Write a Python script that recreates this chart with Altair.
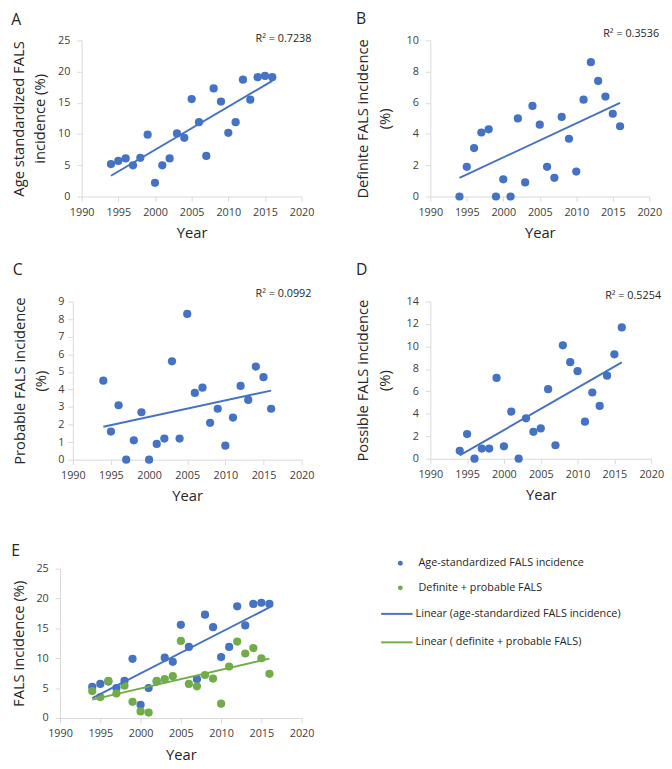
import altair as alt
import pandas as pd

BLUE = "#4472C4"
GREEN = "#70AD47"
FONT = "Open Sans"

years = list(range(1994, 2017))
age_std = [5.2, 5.7, 6.1, 5.0, 6.2, 9.9, 2.2, 5.0, 6.1, 10.1, 9.4, 15.6, 11.9, 6.5,
           17.3, 15.2, 10.2, 11.9, 18.7, 15.5, 19.1, 19.3, 19.1]
definite = [0.0, 1.9, 3.1, 4.1, 4.3, 0.0, 1.1, 0.0, 5.0, 0.9, 5.8, 4.6, 1.9, 1.2,
            5.1, 3.7, 1.6, 6.2, 8.6, 7.4, 6.4, 5.3, 4.5]
probable = [4.5, 1.6, 3.1, 0.0, 1.1, 2.7, 0.0, 0.9, 1.2, 5.6, 1.2, 8.3, 3.8, 4.1,
            2.1, 2.9, 0.8, 2.4, 4.2, 3.4, 5.3, 4.7, 2.9]
possible = [0.7, 2.2, 0.0, 0.9, 0.9, 7.2, 1.1, 4.2, 0.0, 3.6, 2.4, 2.7, 6.2, 1.2,
            10.1, 8.6, 7.8, 3.3, 5.9, 4.7, 7.4, 9.3, 11.7]
def_plus_prob = [4.5, 3.5, 6.2, 4.1, 5.4, 2.7, 1.1, 0.9, 6.2, 6.5, 7.0, 12.9, 5.7, 5.3,
                 7.2, 6.6, 2.4, 8.6, 12.8, 10.8, 11.7, 10.0, 7.4]

x_ticks = [1990, 1995, 2000, 2005, 2010, 2015, 2020]
r2_labels = ["R² = 0.7238", "R² = 0.3536", "R² = 0.0992", "R² = 0.5254"]
series_names = ["Age-standardized FALS incidence", "Definite + probable FALS"]
trend_names = ["Linear (age-standardized FALS incidence)", "Linear ( definite + probable FALS)"]


def x_enc(w, x_off):
    return alt.X("Year:Q", scale=alt.Scale(domain=[1990, 2020], nice=False, zero=False,
                                           range=[x_off, w]),
                 axis=alt.Axis(values=x_ticks, format="d", title="Year",
                               labelFlush=False, labelOverlap=False))


def y_enc(ymax, step, title, x_off, tpad, lpad):
    vals = list(range(0, ymax + 1, step))
    return alt.Y("Value:Q", scale=alt.Scale(domain=[0, ymax], nice=False),
                 axis=alt.Axis(values=vals, title=title, labelFlush=False, labelOverlap=False,
                               offset=-x_off, titlePadding=tpad, labelPadding=lpad))


def panel(values, letter, ytitle, ymax, step, r2, w, h, x_off, r2_dy, t_off, tpad, lpad):
    df = pd.DataFrame({"Year": years, "Value": values})
    base = alt.Chart(df).encode(x=x_enc(w, x_off),
                                y=y_enc(ymax, step, ytitle, x_off, tpad, lpad))
    pts = base.mark_circle(size=70, color=BLUE, opacity=1)
    line = base.transform_regression("Year", "Value").mark_line(color=BLUE, strokeWidth=2)
    txt = alt.Chart(pd.DataFrame({"label": [r2]})).mark_text(
        align="right", baseline="middle", fontSize=11, font=FONT, color="#262626"
    ).encode(x=alt.value(w + 10), y=alt.value(r2_dy), text="label:N")
    return alt.layer(pts, line, txt).properties(
        width=w, height=h, title=alt.TitleParams(letter, anchor="start", offset=t_off))


A = panel(age_std, "A", ["Age standardized FALS", "incidence (%)"], 25, 5, r2_labels[0],
          246, 159, 22, -1, 6, 10, 7)
B = panel(definite, "B", ["Definite FALS incidence", "(%)"], 10, 2, r2_labels[1],
          223, 159, 0, -6, 2, 14, 7)
C = panel(probable, "C", ["Probable FALS incidence", "(%)"], 9, 1, r2_labels[2],
          246, 161, 13, -8, 10, 9, 4)
D = panel(possible, "D", ["Possible FALS incidence", "(%)"], 14, 2, r2_labels[3],
          225, 160, 0, -6, 12, 14, 7)

dfE = pd.DataFrame({
    "Year": years + years,
    "Value": age_std + def_plus_prob,
    "series": [series_names[0]] * len(years) + [series_names[1]] * len(years),
    "trend": [trend_names[0]] * len(years) + [trend_names[1]] * len(years),
})
baseE = alt.Chart(dfE).encode(x=x_enc(246, 0),
                              y=y_enc(25, 5, "FALS incidence (%)", 0, 10, 7))
ptsE = baseE.mark_circle(size=70, opacity=1).encode(
    fill=alt.Fill("series:N", scale=alt.Scale(domain=series_names, range=[BLUE, GREEN]),
                  legend=alt.Legend(title=None, orient="none", legendX=341, legendY=-11,
                                    symbolType="circle", symbolSize=25, labelOffset=13,
                                    rowPadding=13, padding=0, labelLimit=400,
                                    labelFont=FONT, labelFontSize=11, labelColor="#262626"))
)
lineE = baseE.transform_regression("Year", "Value", groupby=["series", "trend"]).mark_line(strokeWidth=2).encode(
    stroke=alt.Stroke("trend:N", scale=alt.Scale(domain=trend_names, range=[BLUE, GREEN]),
                      legend=alt.Legend(title=None, orient="none", legendX=326, legendY=29,
                                        symbolType="stroke", symbolSize=1024, symbolStrokeWidth=2,
                                        labelOffset=2, rowPadding=7, padding=0, labelLimit=400,
                                        labelFont=FONT, labelFontSize=11, labelColor="#262626"))
)
E = alt.layer(ptsE, lineE).properties(width=246, height=152,
                                      title=alt.TitleParams("E", anchor="start", offset=-1))

top = alt.concat(A, B, C, D, columns=2, align="none", spacing={"row": 22, "column": 42})

chart = alt.concat(top, E, columns=1, align="none", spacing=40).resolve_legend(
    fill="independent", stroke="independent"
).properties(
    padding={"left": 3, "top": -4, "right": 0, "bottom": 0}
).configure_view(stroke=None).configure_axis(
    grid=False, domainColor="#D9D9D9", tickColor="#D9D9D9", tickSize=5,
    labelFont=FONT, labelFontSize=11, labelColor="#404040",
    titleFont=FONT, titleFontSize=15, titleFontWeight="normal", titleColor="#262626",
    titleLineHeight=22,
).configure_axisX(labelPadding=5, titlePadding=9).configure_title(
    font=FONT, fontSize=16, fontWeight="normal", color="#262626", anchor="start")

chart.save("out.html", embed_options={"renderer": "svg", "actions": False})
